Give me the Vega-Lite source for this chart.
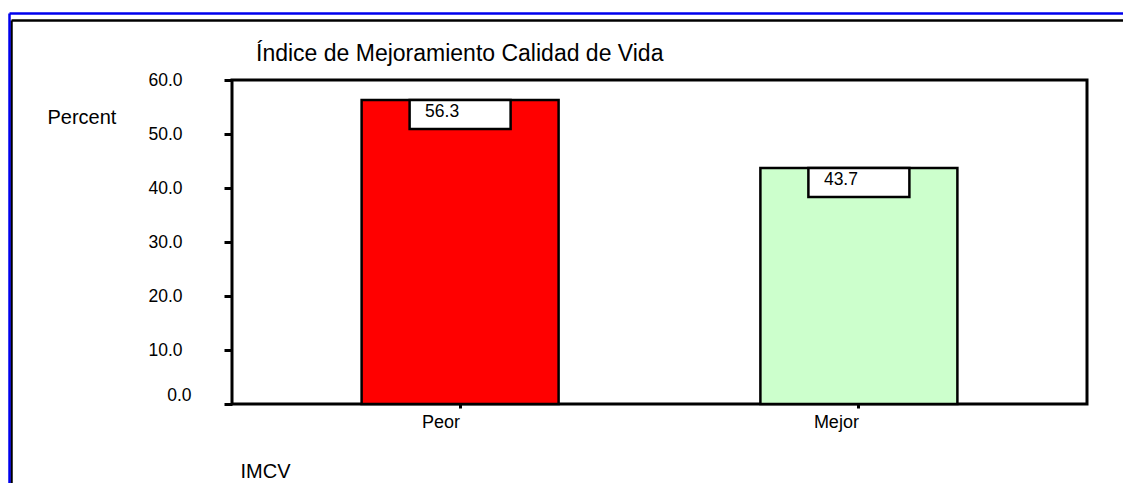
{
  "$schema": "https://vega.github.io/schema/vega-lite/v6.json",
  "autosize": {"type": "none"},
  "padding": {"left": 232, "top": 80, "right": 36, "bottom": 79},
  "width": 855,
  "height": 324,
  "background": "white",
  "title": {
    "text": "Índice de Mejoramiento Calidad de Vida",
    "anchor": "start",
    "frame": "group",
    "dx": 24,
    "offset": -71,
    "baseline": "alphabetic",
    "fontSize": 23,
    "fontWeight": "normal",
    "color": "black"
  },
  "data": {
    "values": [
      {"IMCV": "Peor", "Percent": 56.3},
      {"IMCV": "Mejor", "Percent": 43.7}
    ]
  },
  "layer": [
    {
      "encoding": {
        "x": {
          "field": "IMCV",
          "type": "nominal",
          "sort": null,
          "scale": {"paddingInner": 0.506, "paddingOuter": 0.325},
          "axis": {
            "orient": "bottom",
            "labelAngle": 0,
            "labelAlign": "right",
            "labelBaseline": "alphabetic",
            "labelPadding": 19,
            "labelFontSize": 18,
            "labelColor": "black",
            "tickSize": 4,
            "tickWidth": 3,
            "tickColor": "black",
            "domain": false,
            "title": "IMCV",
            "titleX": 8,
            "titleY": 73,
            "titleAlign": "left",
            "titleBaseline": "alphabetic",
            "titleFontSize": 20,
            "titleFontWeight": "normal",
            "titleColor": "black"
          }
        },
        "y": {
          "field": "Percent",
          "type": "quantitative",
          "scale": {"domain": [0, 60], "nice": false},
          "axis": {
            "orient": "left",
            "values": [0, 10, 20, 30, 40, 50, 60],
            "format": ".1f",
            "grid": false,
            "domain": false,
            "tickSize": 8,
            "tickWidth": 3,
            "tickColor": "black",
            "labelFontSize": 17.5,
            "labelColor": "black",
            "labelPadding": {"condition": {"test": "datum.value === 0", "value": 33}, "value": 42},
            "labelOffset": {"condition": {"test": "datum.value === 0", "value": -9}, "value": 0},
            "title": "Percent",
            "titleAngle": 0,
            "titleX": -185,
            "titleY": 43,
            "titleAlign": "left",
            "titleBaseline": "alphabetic",
            "titleFontSize": 20,
            "titleFontWeight": "normal",
            "titleColor": "black"
          }
        }
      },
      "layer": [
        {
          "mark": {"type": "bar", "stroke": "black", "strokeWidth": 2.5},
          "encoding": {
            "color": {
              "field": "IMCV",
              "type": "nominal",
              "scale": {"domain": ["Peor", "Mejor"], "range": ["#FF0000", "#CCFFCC"]},
              "legend": null
            }
          }
        },
        {
          "mark": {"type": "bar", "width": 101, "fill": "white", "stroke": "black", "strokeWidth": 2.5, "y2Offset": 29},
          "encoding": {
            "y2": {"field": "Percent"}
          }
        },
        {
          "mark": {"type": "text", "align": "left", "dx": -35, "dy": 17, "baseline": "alphabetic", "fontSize": 17.5, "color": "black"},
          "encoding": {
            "text": {"field": "Percent", "type": "quantitative", "format": ".1f"}
          }
        }
      ]
    },
    {
      "mark": {"type": "point", "opacity": 0},
      "encoding": {
        "x": {
          "datum": 0,
          "type": "quantitative",
          "scale": {"domain": [0, 1], "range": [-221, 891]},
          "axis": {"orient": "top", "offset": 60, "domain": true, "domainColor": "black", "domainWidth": 2.5, "ticks": false, "labels": false, "grid": false, "title": null}
        },
        "y": {
          "datum": 0,
          "type": "quantitative",
          "scale": {"domain": [0, 1], "range": [403, -60]},
          "axis": {"orient": "left", "offset": 221, "domain": true, "domainColor": "black", "domainWidth": 2.5, "ticks": false, "labels": false, "grid": false, "title": null}
        }
      }
    },
    {
      "mark": {"type": "point", "opacity": 0},
      "encoding": {
        "x": {
          "datum": 0,
          "type": "quantitative",
          "scale": {"domain": [0, 1], "range": [-223, 891]},
          "axis": {"orient": "top", "offset": 67, "domain": true, "domainColor": "#0000EE", "domainWidth": 2.5, "ticks": false, "labels": false, "grid": false, "title": null}
        },
        "y": {
          "datum": 0,
          "type": "quantitative",
          "scale": {"domain": [0, 1], "range": [403, -67]},
          "axis": {"orient": "left", "offset": 223, "domain": true, "domainColor": "#0000EE", "domainWidth": 2.5, "ticks": false, "labels": false, "grid": false, "title": null}
        }
      }
    }
  ],
  "resolve": {"scale": {"x": "independent", "y": "independent"}, "axis": {"x": "independent", "y": "independent"}},
  "config": {
    "font": "Liberation Sans",
    "view": {"stroke": "black", "strokeWidth": 3}
  }
}
